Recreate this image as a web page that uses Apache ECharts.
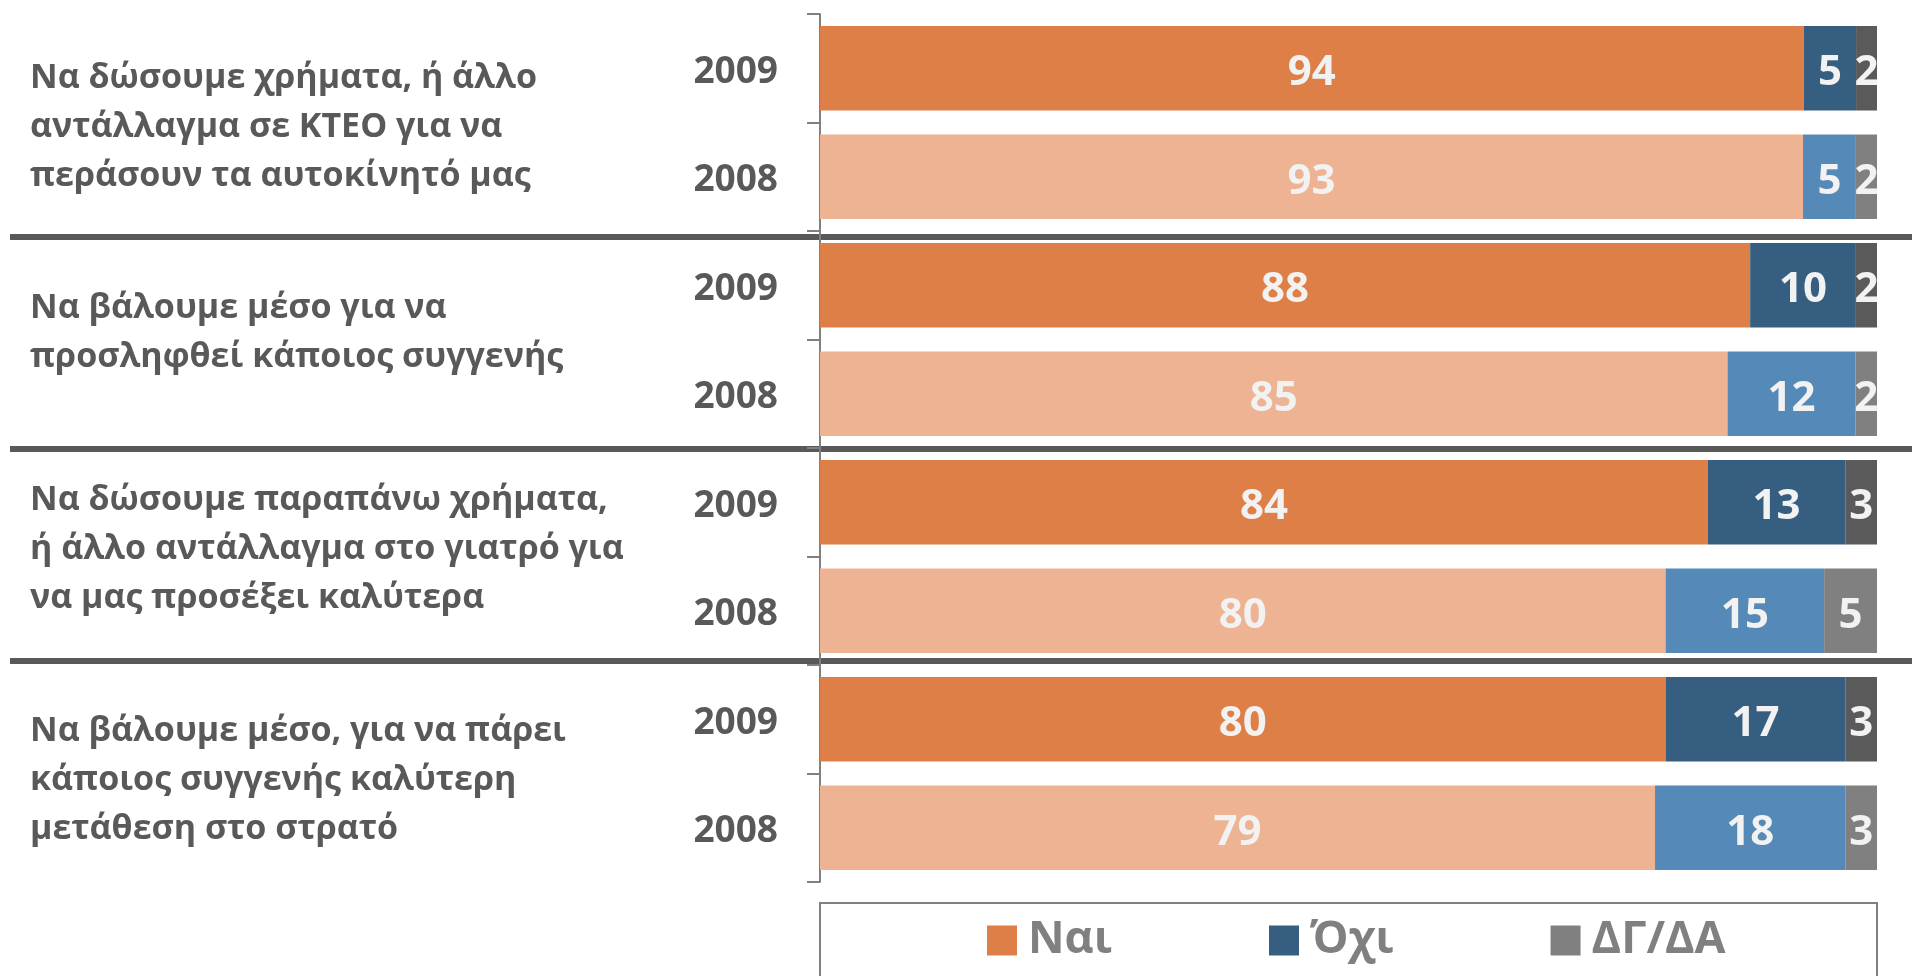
<!DOCTYPE html>
<html>
<head>
<meta charset="utf-8">
<script src="https://cdn.jsdelivr.net/npm/echarts@6/dist/echarts.min.js"></script>
<style>
  html,body{margin:0;padding:0;background:#fff;}
  #main{width:1912px;height:976px;}
</style>
</head>
<body>
<div id="main"></div>
<script>
// ερωτήσεις (ομάδες των δύο ετών)
var questions = [
    'Να δώσουμε χρήματα, ή άλλο\nαντάλλαγμα σε ΚΤΕΟ για να\nπεράσουν τα αυτοκίνητό μας',
    'Να βάλουμε μέσο για να\nπροσληφθεί κάποιος συγγενής',
    'Να δώσουμε παραπάνω χρήματα,\nή άλλο αντάλλαγμα στο γιατρό για\nνα μας προσέξει καλύτερα',
    'Να βάλουμε μέσο, για να πάρει\nκάποιος συγγενής καλύτερη\nμετάθεση στο στρατό'
];
var years = ['2009','2008','2009','2008','2009','2008','2009','2008'];
var nai  = [94, 93, 88, 85, 84, 80, 80, 79];
var oxi  = [5, 5, 10, 12, 13, 15, 17, 18];
var dgda = [2, 2, 2, 2, 3, 5, 3, 3];

var seriesNames = ['Ναι','Όχι','ΔΓ/ΔΑ'];
var colors2009 = ['#DD7F46','#365E80','#5A5A5A'];
var colors2008 = ['#EDB393','#5489B8','#808080'];
var legendColors = ['#DD7F46','#365E80','#808080'];

var font = "'Open Sans', sans-serif";

// μετατόπιση κειμένων ερωτήσεων (θετικό = προς τα κάτω)
var questionShift = [9, -14, -14, 13];

// 100% stacked: κάθε γραμμή κανονικοποιείται στο σύνολό της
function buildData(values, k){
    var out = [];
    for(var i=0;i<values.length;i++){
        var total = nai[i]+oxi[i]+dgda[i];
        out.push({
            value: values[i]/total*100,
            raw: values[i],
            itemStyle: {color: years[i]=='2009' ? colors2009[k] : colors2008[k]}
        });
    }
    return out;
}

// κενή γραμμή (spacer) για μικρή κατακόρυφη μετατόπιση
function shifted(lines, tag, shift){
    var body = lines.map(function(l){ return '{'+tag+'|'+l+'}'; }).join('\n');
    if(shift>0) return '{s'+shift+'|\u200b}\n'+body;
    if(shift<0) return body+'\n{s'+(-shift)+'|\u200b}';
    return body;
}
function spacers(){
    var r = {};
    [8,9,13,14].forEach(function(h){ r['s'+h] = {lineHeight: h, height: h, fontSize: 1}; });
    return r;
}

var allValues = [nai, oxi, dgda];
var series = [];
for(var k=0;k<3;k++){
    series.push({
        name: seriesNames[k],
        type: 'bar',
        stack: 'total',
        yAxisIndex: 0,
        barCategoryGap: '22%',
        color: legendColors[k],
        data: buildData(allValues[k], k),
        label: {
            show: true,
            position: 'inside',
            offset: [0, 5],
            color: '#F2F2F2',
            fontFamily: font,
            fontWeight: 'bold',
            fontSize: 42,
            formatter: function(p){ return p.data.raw; }
        }
    });
}

var richQ = spacers();
richQ.q = {color: '#595959', fontFamily: font, fontWeight: 'bold', fontSize: 34, lineHeight: 49, align: 'left'};
var richY = spacers();
richY.y = {color: '#595959', fontFamily: font, fontWeight: 'bold', fontSize: 37, align: 'right'};

var myChart = echarts.init(document.getElementById('main'));
myChart.setOption({
    backgroundColor: '#fff',
    animation: false,
    grid: {left: 820, right: 35, top: 14, bottom: 94, containLabel: false, outerBoundsMode: 'none'},
    xAxis: {type: 'value', min: 0, max: 100, show: false},
    yAxis: [{
        type: 'category',
        inverse: true,
        data: years,
        axisLine: {show: true, lineStyle: {color: '#808080', width: 2}},
        axisTick: {show: true, length: 13, interval: 0, lineStyle: {color: '#808080', width: 2}},
        axisLabel: {
            margin: 42,
            align: 'right',
            rich: richY,
            formatter: function(v){ return shifted([v], 'y', 8); }
        }
    },{
        type: 'category',
        inverse: true,
        position: 'left',
        data: questions,
        axisLine: {show: false},
        axisTick: {show: false},
        axisLabel: {
            margin: 790,
            align: 'left',
            rich: richQ,
            formatter: function(v, i){ return shifted(v.split('\n'), 'q', questionShift[i]); }
        }
    }],
    legend: {
        left: 982,
        top: 913,
        itemWidth: 30,
        itemHeight: 30,
        itemGap: 157,
        icon: 'rect',
        data: seriesNames,
        textStyle: {color: '#808080', fontFamily: font, fontWeight: 'bold', fontSize: 45, padding: [0,0,0,6]}
    },
    graphic: [
        {type:'line', shape:{x1:10, y1:237, x2:1912, y2:237}, style:{stroke:'#595959', lineWidth:6}},
        {type:'line', shape:{x1:10, y1:449, x2:1912, y2:449}, style:{stroke:'#595959', lineWidth:6}},
        {type:'line', shape:{x1:10, y1:661, x2:1912, y2:661}, style:{stroke:'#595959', lineWidth:6}},
        {type:'rect', shape:{x:820, y:903, width:1057, height:120}, style:{fill:'none', stroke:'#808080', lineWidth:2}}
    ],
    series: series
});
</script>
</body>
</html>
